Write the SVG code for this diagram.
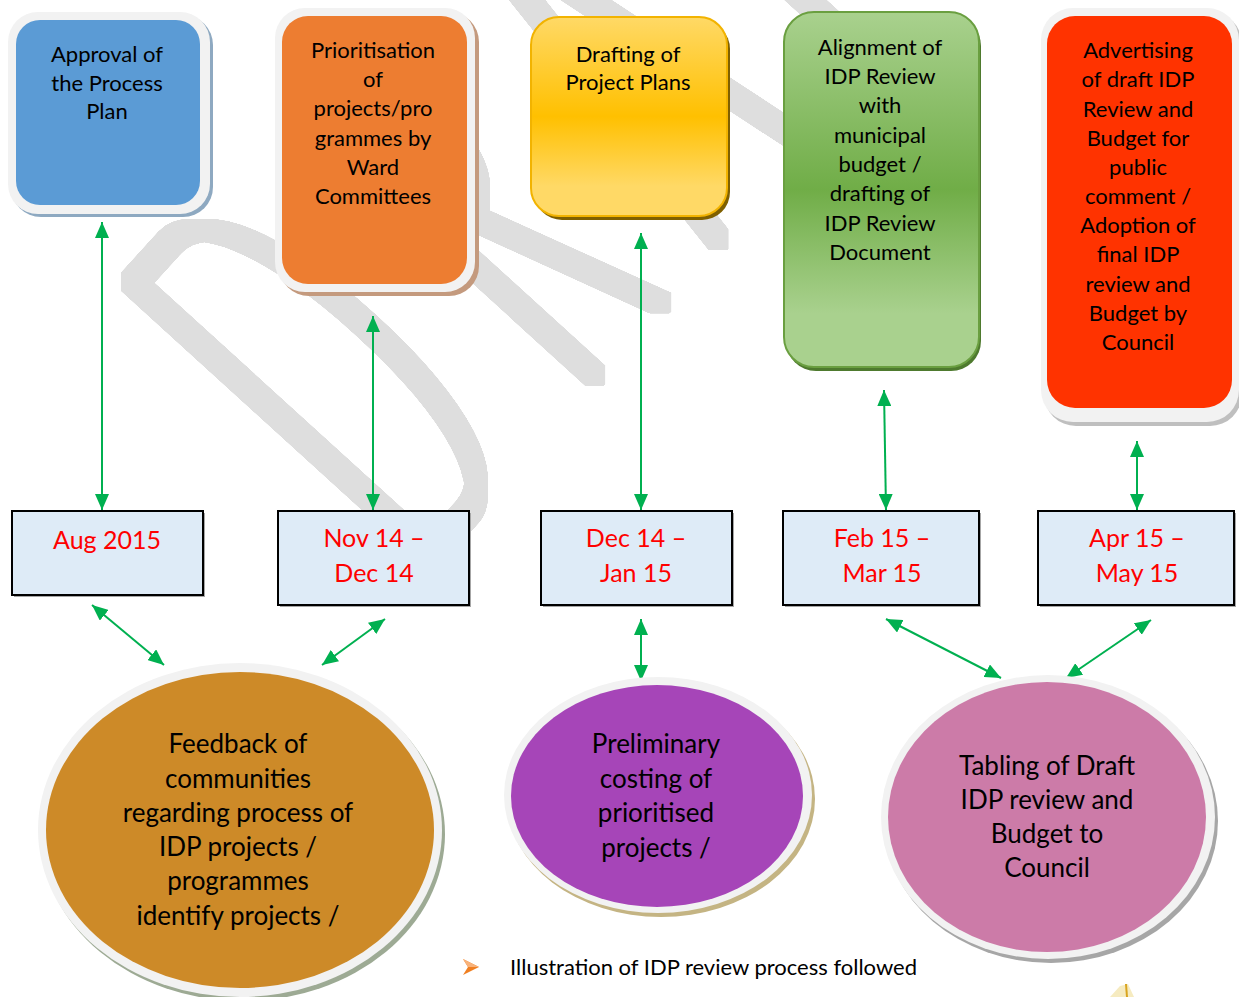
<svg xmlns="http://www.w3.org/2000/svg" width="1239" height="997" viewBox="0 0 1239 997">
<style>
.t{font-family:Lato,"Open Sans","Liberation Sans",sans-serif;text-anchor:middle;fill:#000}
.bx{font-size:22px}
.el{font-size:26px}
.dt{font-size:25px;fill:#FF0000}
.ring{fill:#F2F2F2}
.date{fill:#DEEBF7;stroke:#000;stroke-width:2}
.dsh{fill:#A6A6A6}
.conn line{stroke:#00B050;stroke-width:2;marker-start:url(#ah);marker-end:url(#ah)}
</style>
<defs>
<marker id="ah" viewBox="0 0 16 14" refX="16" refY="7" markerWidth="16" markerHeight="14" markerUnits="userSpaceOnUse" orient="auto-start-reverse">
<path d="M0,0 L16,7 L0,14 Z" fill="#00B050"/>
</marker>
<linearGradient id="gY" x1="0" y1="0" x2="0" y2="1">
<stop offset="0" stop-color="#FFD966"/><stop offset="0.5" stop-color="#FFC000"/><stop offset="0.85" stop-color="#FFD966"/><stop offset="1" stop-color="#FFD966"/>
</linearGradient>
<linearGradient id="gG" x1="0" y1="0" x2="0" y2="1">
<stop offset="0" stop-color="#A9D18E"/><stop offset="0.5" stop-color="#70AD47"/><stop offset="0.85" stop-color="#A9D18E"/><stop offset="1" stop-color="#A9D18E"/>
</linearGradient>
<filter id="thick" filterUnits="userSpaceOnUse" x="0" y="0" width="1239" height="997">
<feMorphology in="SourceAlpha" operator="dilate" radius="9" result="d"/>
<feComponentTransfer in="d" result="s"><feFuncA type="linear" slope="4"/></feComponentTransfer>
<feFlood flood-color="#DEDEDE"/>
<feComposite in2="s" operator="in"/>
</filter>
</defs>
<rect width="1239" height="997" fill="#FFFFFF"/>

<g id="watermark" filter="url(#thick)">
<text transform="translate(414,575) rotate(-47.7) scale(0.97,2.53)" x="0" y="0" font-family="Lato,sans-serif" font-weight="100" font-size="230" letter-spacing="75" fill="#000">DRAFT</text>
</g>

<g id="connectors" class="conn">
<line x1="102" y1="222" x2="102" y2="510"/>
<line x1="373" y1="316" x2="373" y2="510"/>
<line x1="641" y1="233" x2="641" y2="510"/>
<line x1="884" y1="390" x2="886" y2="510"/>
<line x1="1137" y1="441" x2="1137" y2="510"/>
<line x1="92" y1="605" x2="164" y2="665"/>
<line x1="385" y1="619" x2="322" y2="665"/>
<line x1="641" y1="619" x2="641" y2="681"/>
<line x1="886" y1="619" x2="1001" y2="678"/>
<line x1="1151" y1="620" x2="1066" y2="678"/>
</g>

<g id="approval">
<rect x="11" y="15" width="202" height="202" rx="30" fill="#8EA9C1"/>
<rect x="8" y="12" width="202" height="202" rx="30" class="ring"/>
<rect x="16" y="20" width="184" height="185" rx="24" fill="#5B9BD5"/>
<text class="t bx"><tspan x="107" y="62">Approval of</tspan><tspan x="107" y="91">the Process</tspan><tspan x="107" y="119">Plan</tspan></text>
</g>

<g id="prioritisation">
<rect x="279" y="12" width="200" height="284" rx="30" fill="#C49A7E"/>
<rect x="275" y="8" width="200" height="284" rx="30" class="ring"/>
<rect x="282" y="16" width="185" height="268" rx="26" fill="#ED7D31"/>
<text class="t bx"><tspan x="373" y="58">Prioritisation</tspan><tspan x="373" y="87">of</tspan><tspan x="373" y="116">projects/pro</tspan><tspan x="373" y="146">grammes by</tspan><tspan x="373" y="175">Ward</tspan><tspan x="373" y="204">Committees</tspan></text>
</g>

<g id="drafting">
<rect x="534" y="21" width="196" height="199" rx="28" fill="#7F6000"/>
<rect x="531" y="17" width="196" height="199" rx="28" fill="url(#gY)" stroke="#F2B300" stroke-width="2"/>
<text class="t bx"><tspan x="628" y="62">Drafting of</tspan><tspan x="628" y="90">Project Plans</tspan></text>
</g>

<g id="alignment">
<rect x="786" y="16" width="195" height="355" rx="30" fill="#4E7A2E"/>
<rect x="784" y="12" width="195" height="355" rx="30" fill="url(#gG)" stroke="#6A9F40" stroke-width="2"/>
<text class="t bx"><tspan x="880" y="55">Alignment of</tspan><tspan x="880" y="84">IDP Review</tspan><tspan x="880" y="113">with</tspan><tspan x="880" y="143">municipal</tspan><tspan x="880" y="172">budget /</tspan><tspan x="880" y="201">drafting of</tspan><tspan x="880" y="231">IDP Review</tspan><tspan x="880" y="260">Document</tspan></text>
</g>

<g id="advertising">
<rect x="1044" y="12" width="198" height="414" rx="32" fill="#BFBFBF"/>
<rect x="1041" y="8" width="198" height="414" rx="32" class="ring"/>
<rect x="1047" y="16" width="185" height="392" rx="28" fill="#FF3300"/>
<text class="t bx"><tspan x="1138" y="58">Advertising</tspan><tspan x="1138" y="87">of draft IDP</tspan><tspan x="1138" y="117">Review and</tspan><tspan x="1138" y="146">Budget for</tspan><tspan x="1138" y="175">public</tspan><tspan x="1138" y="204">comment /</tspan><tspan x="1138" y="233">Adoption of</tspan><tspan x="1138" y="262">final IDP</tspan><tspan x="1138" y="292">review and</tspan><tspan x="1138" y="321">Budget by</tspan><tspan x="1138" y="350">Council</tspan></text>
</g>

<g id="date-aug">
<rect x="14" y="513" width="191" height="84" class="dsh"/>
<rect x="12" y="511" width="191" height="84" class="date"/>
<text class="t dt" x="107" y="549">Aug 2015</text>
</g>
<g id="date-nov">
<rect x="280" y="513" width="191" height="94" class="dsh"/>
<rect x="278" y="511" width="191" height="94" class="date"/>
<text class="t dt"><tspan x="374" y="547">Nov 14 –</tspan><tspan x="374" y="582">Dec 14</tspan></text>
</g>
<g id="date-dec">
<rect x="543" y="513" width="191" height="94" class="dsh"/>
<rect x="541" y="511" width="191" height="94" class="date"/>
<text class="t dt"><tspan x="636" y="547">Dec 14 –</tspan><tspan x="636" y="582">Jan 15</tspan></text>
</g>
<g id="date-feb">
<rect x="785" y="513" width="196" height="94" class="dsh"/>
<rect x="783" y="511" width="196" height="94" class="date"/>
<text class="t dt"><tspan x="882" y="547">Feb 15 –</tspan><tspan x="882" y="582">Mar 15</tspan></text>
</g>
<g id="date-apr">
<rect x="1040" y="513" width="196" height="94" class="dsh"/>
<rect x="1038" y="511" width="196" height="94" class="date"/>
<text class="t dt"><tspan x="1137" y="547">Apr 15 –</tspan><tspan x="1137" y="582">May 15</tspan></text>
</g>

<g id="feedback">
<ellipse cx="243" cy="834" rx="202" ry="167" fill="#9DAA94"/>
<ellipse cx="240" cy="830" rx="202" ry="167" class="ring"/>
<ellipse cx="240" cy="830" rx="194" ry="158" fill="#CD8A28"/>
<text class="t el"><tspan x="238" y="753">Feedback of</tspan><tspan x="238" y="788">communities</tspan><tspan x="238" y="822">regarding process of</tspan><tspan x="238" y="856">IDP projects /</tspan><tspan x="238" y="890">programmes</tspan><tspan x="238" y="925">identify projects /</tspan></text>
</g>

<g id="preliminary">
<ellipse cx="661" cy="799" rx="154" ry="118" fill="#C4B483"/>
<ellipse cx="658" cy="795" rx="154" ry="118" class="ring"/>
<ellipse cx="657" cy="796" rx="146" ry="111" fill="#A645B8"/>
<text class="t el"><tspan x="656" y="753">Preliminary</tspan><tspan x="656" y="788">costing of</tspan><tspan x="656" y="822">prioritised</tspan><tspan x="656" y="857">projects /</tspan></text>
</g>

<g id="tabling">
<ellipse cx="1051" cy="821" rx="167" ry="142" fill="#A6A6A6"/>
<ellipse cx="1048" cy="817" rx="167" ry="142" class="ring"/>
<ellipse cx="1047" cy="817" rx="159" ry="135" fill="#CC7BA8"/>
<text class="t el"><tspan x="1047" y="775">Tabling of Draft</tspan><tspan x="1047" y="809">IDP review and</tspan><tspan x="1047" y="843">Budget to</tspan><tspan x="1047" y="877">Council</tspan></text>
</g>

<g id="caption">
<path d="M463,959 L479,967 L463,975 L468,967 Z" fill="#F07F21"/>
<path d="M463,959 L479,967 L468,967 Z" fill="#F8B27A"/>
<text x="510" y="975" font-family="Lato,'Open Sans',sans-serif" font-size="22" fill="#000">Illustration of IDP review process followed</text>
</g>
<g id="fragment">
<path d="M1110,997 L1120,986 L1128,984 L1134,997 Z" fill="#F6EBC0"/>
<line x1="1126" y1="984" x2="1127" y2="997" stroke="#D9A520" stroke-width="2"/>
</g>
</svg>
